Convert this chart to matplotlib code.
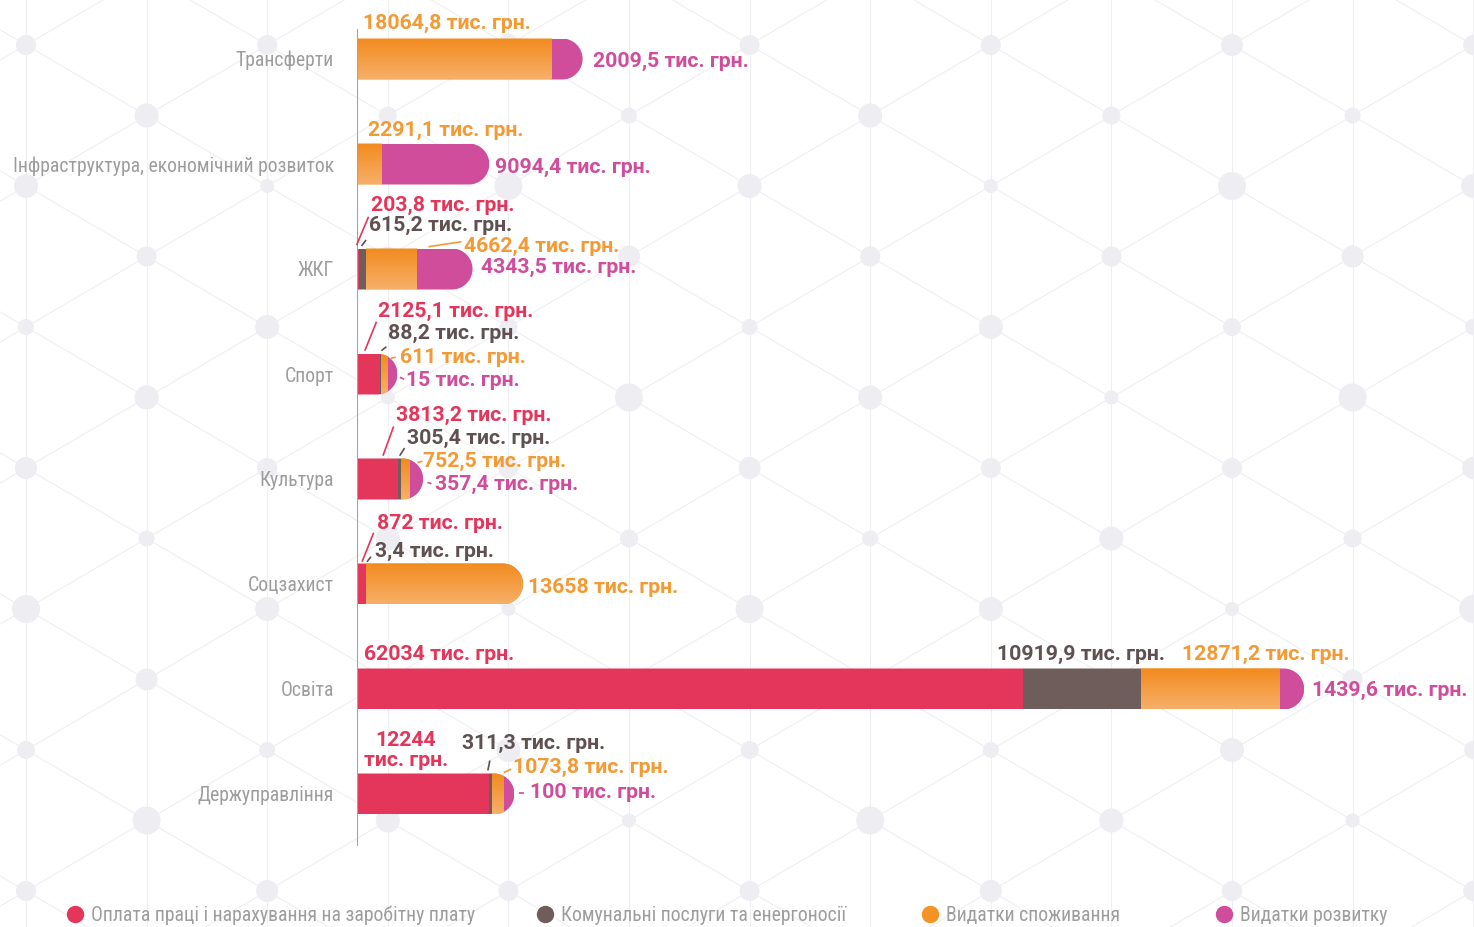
import numpy as np
import matplotlib
matplotlib.use("Agg")
import matplotlib.pyplot as plt
import matplotlib.transforms as mtransforms
from matplotlib import font_manager
from matplotlib.colors import LinearSegmentedColormap
from matplotlib.patches import PathPatch
from matplotlib.path import Path

# ---- data (тис. грн.) ----
categories = ["Трансферти", "Інфраструктура, економічний розвиток", "ЖКГ", "Спорт",
              "Культура", "Соцзахист", "Освіта", "Держуправління"]
series_names = ["Оплата праці і нарахування на заробітну плату",
                "Комунальні послуги та енергоносії",
                "Видатки споживання",
                "Видатки розвитку"]
wages = [0, 0, 203.8, 2125.1, 3813.2, 872, 62034, 12244]
utilities = [0, 0, 615.2, 88.2, 305.4, 3.4, 10919.9, 311.3]
consumption = [18064.8, 2291.1, 4662.4, 611, 752.5, 13658, 12871.2, 1073.8]
development = [2009.5, 9094.4, 4343.5, 15, 357.4, 0, 1439.6, 100]

# ---- style ----
W, H, DPI = 1474, 927, 100
BAR_COLORS = ["#e3365a", "#6f5d5b", "#f39225", "#cf4d9b"]
TEXT_COLORS = ["#e3365a", "#5f5151", "#f39a35", "#cf4d9b"]
GREY_TEXT = "#9d9d9d"
ORANGE_CMAP = LinearSegmentedColormap.from_list("org", ["#f28b1e", "#f7af68"])

names = {f.name for f in font_manager.fontManager.ttflist}
LABEL_FONT = "Roboto"
for cand in ["Roboto Condensed", "Liberation Sans Narrow", "Open Sans Condensed"]:
    if cand in names:
        LABEL_FONT = cand
        break
LABEL_SIZE = 14.2 if LABEL_FONT != "Roboto" else 12.5
VALUE_FONT = "Roboto"
VALUE_SIZE = 15.3

PX_PER_UNIT = 0.01074      # horizontal scale, pixels per тис. грн.
AX_LEFT = 357
ROW_TOP, ROW_STEP = 59, 105
BAR_H = 41 / ROW_STEP
CAP_PX, EXT_PX = 20.5, 10

# label placement: (category, series) -> (anchor, dx px, dy px below bar centre)
LABEL_POS = {
    (0, 2): ("left", 6, -30), (0, 3): ("end", 10, 8),
    (1, 2): ("left", 11, -28), (1, 3): ("end", 6, 9),
    (2, 0): ("seg", 11.7, -58), (2, 1): ("seg", 3, -38),
    (2, 2): ("end", -9, -17), (2, 3): ("end", 8, 4),
    (3, 0): ("seg", -1.7, -57), (3, 1): ("seg", 7.3, -35),
    (3, 2): ("end", 2.4, -11), (3, 3): ("end", 8.4, 12),
    (4, 0): ("seg", -1.6, -58.6), (4, 1): ("seg", 5.7, -35),
    (4, 2): ("end", 0, -12.6), (4, 3): ("end", 12.3, 10.7),
    (5, 0): ("seg", 10.7, -54.7), (5, 1): ("seg", 9, -27.3),
    (5, 2): ("end", 5, 8.7),
    (6, 0): ("left", 7, -28.8), (6, 1): ("seg", -144, -28.8),
    (6, 2): ("seg", -96.3, -28.8), (6, 3): ("end", 8, 6.5),
    (7, 0): ("left", 49, -28), (7, 1): ("seg", -29.7, -45),
    (7, 2): ("end", -1.6, -21), (7, 3): ("end", 16, 4),
}
LEADERS = [
    (2, 0, "seg", -2.6, -24, 9.4, -52.3), (2, 1, "seg", -4.3, -23, 0.3, -29),
    (2, 2, "end", -44, -22.3, -11, -27.3),
    (3, 0, "seg", -15, -23.3, -3.3, -52.3), (3, 1, "seg", 0.6, -23.3, 5.6, -27.3),
    (3, 2, "end", -6.6, -15.7, -1.6, -16.7), (3, 3, "end", 2.4, 3.3, 6.7, 5.3),
    (4, 0, "seg", -15, -23.3, -4.3, -52.6), (4, 1, "seg", -1.6, -23.3, 3.4, -31),
    (4, 2, "end", -5.7, -16.6, -0.7, -17.6), (4, 3, "end", 4.3, 3.4, 8.3, 4.7),
    (5, 0, "seg", -4.3, -22.3, 7.3, -51.3), (5, 1, "seg", 0.6, -22.3, 4.6, -27.3),
    (7, 1, "seg", -4, -23.5, -2, -33.5), (7, 2, "end", -10.6, -21.5, -3.3, -24.9),
    (7, 3, "end", 4.4, -1, 9.4, -1),
]
LEGEND_X = [75, 545, 930, 1224]
LEGEND_Y = 914


def fmt(v):
    return f"{v:g}".replace(".", ",") + " тис. грн."


fig = plt.figure(figsize=(W / DPI, H / DPI), dpi=DPI, facecolor="white")

# ---- background lattice ----
bg = fig.add_axes([0, 0, 1, 1], zorder=0)
bg.set_xlim(0, W)
bg.set_ylim(H, 0)
bg.set_axis_off()
gx, gy, sx, sy = 26, 45, 120.6, 70.5
radii = [10, 12, 8, 11, 14, 9, 10, 7, 12]
for c in range(-1, 14):
    bg.plot([gx + c * sx] * 2, [0, H], color="#efeff1", lw=0.8, zorder=0)
for c in range(-1, 14):
    for r in range(-1, 14):
        if (c + r) % 2:
            continue
        x, y = gx + c * sx, gy + r * sy
        for d in (1, -1):
            bg.plot([x, x + sx], [y, y + d * sy], color="#efeff1", lw=0.8, zorder=0)
for c in range(-1, 14):
    for r in range(-1, 14):
        if (c + r) % 2:
            continue
        rad = radii[(3 * c + 5 * r) % len(radii)]
        bg.add_patch(plt.Circle((gx + c * sx, gy + r * sy), rad, color="#ededf2", lw=0, zorder=1))

# ---- legend ----
for k, name in enumerate(series_names):
    bg.plot(LEGEND_X[k], LEGEND_Y, "o", ms=11.5, color=BAR_COLORS[k], zorder=3)
    bg.text(LEGEND_X[k] + 16, LEGEND_Y + 7, name, color=GREY_TEXT, fontsize=LABEL_SIZE,
            family=LABEL_FONT, va="baseline", ha="left", zorder=3)

# ---- bars ----
ax = fig.add_axes([AX_LEFT / W, 0, 1 - AX_LEFT / W, 1], zorder=1)
ax.patch.set_alpha(0)
ax.set_axis_off()
ax.set_autoscale_on(False)
xmax = (W - AX_LEFT) / PX_PER_UNIT
ylims = ((H - ROW_TOP) / ROW_STEP, -ROW_TOP / ROW_STEP)
ax.set_xlim(0, xmax)
ax.set_ylim(*ylims)
ax.axvline(0, ymin=1 - 845 / H, ymax=1 - 30 / H, color="#a3a3a3", lw=1.5, zorder=3)


def px_trans(x, y):
    # offsets in pixels (y downwards) from a data point
    return mtransforms.Affine2D().scale(1, -1) + mtransforms.ScaledTranslation(x, y, ax.transData)


values = np.array([wages, utilities, consumption, development], dtype=float)
grad = np.linspace(0, 1, 64).reshape(-1, 1)
rx = CAP_PX / PX_PER_UNIT
ext = EXT_PX / PX_PER_UNIT
half = BAR_H / 2
t = np.linspace(-np.pi / 2, np.pi / 2, 60)

for i, cat in enumerate(categories):
    vals = values[:, i]
    last = max(s for s in range(4) if vals[s] > 0)
    end = vals.sum() + ext
    verts = ([(0, i - half), (end - rx, i - half)]
             + list(zip(end - rx + rx * np.cos(t), i + half * np.sin(t)))
             + [(0, i + half), (0, i - half)])
    clip = PathPatch(Path(verts), transform=ax.transData, facecolor="none", edgecolor="none")

    seg_end = {}
    left = 0.0
    for s in range(4):
        if vals[s] <= 0:
            continue
        w = vals[s] + (ext if s == last else 0)
        b = ax.barh(i, w, left=left, height=BAR_H, color=BAR_COLORS[s], lw=0, zorder=2)
        b[0].set_clip_path(clip)
        if s == 2:
            im = ax.imshow(grad, extent=(left, left + w, i + half, i - half), cmap=ORANGE_CMAP,
                           aspect="auto", interpolation="bilinear", zorder=2.5)
            im.set_clip_path(clip)
        left += vals[s]
        seg_end[s] = left

    anchors = {"left": 0.0, "end": end}
    ax.text(-23, 7.5, cat, transform=px_trans(0, i), ha="right", va="baseline",
            color=GREY_TEXT, fontsize=LABEL_SIZE, family=LABEL_FONT)

    for s in range(4):
        if vals[s] <= 0:
            continue
        kind, dx, dy = LABEL_POS[(i, s)]
        ax0 = seg_end[s] if kind == "seg" else anchors[kind]
        label = fmt(vals[s])
        ha = "left"
        if (i, s) == (7, 0):
            label = label.replace(" ", "\n", 1)
            ha = "center"
        ax.text(dx, dy, label, transform=px_trans(ax0, i), ha=ha, va="baseline",
                multialignment="center", linespacing=1.05, color=TEXT_COLORS[s],
                fontsize=VALUE_SIZE, family=VALUE_FONT, fontweight="bold", zorder=4)

for i, s, kind, x0, y0, x1, y1 in LEADERS:
    vals = values[:, i]
    if kind == "seg":
        ax0 = vals[:s + 1].sum()
    else:
        ax0 = vals.sum() + ext
    ax.plot([x0, x1], [y0, y1], transform=px_trans(ax0, i), color=TEXT_COLORS[s],
            lw=1.2, solid_capstyle="butt", clip_on=False, zorder=4)

ax.set_xlim(0, xmax)
ax.set_ylim(*ylims)
fig.savefig("out.png", dpi=DPI, facecolor="white")
